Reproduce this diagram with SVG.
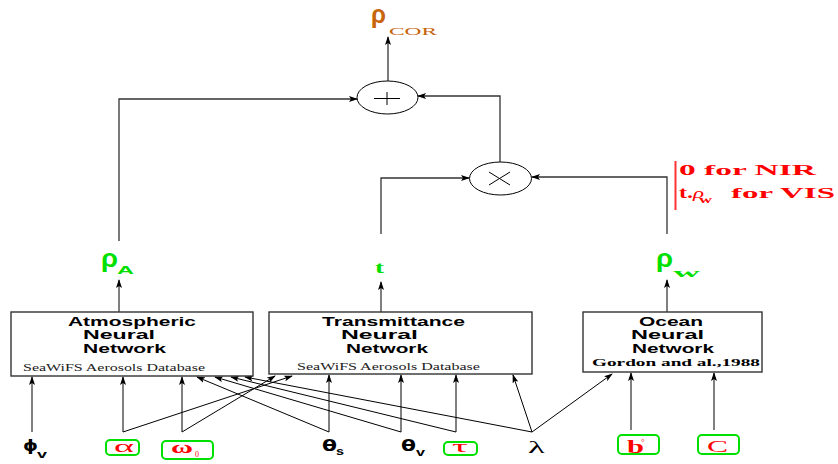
<svg xmlns="http://www.w3.org/2000/svg" width="838" height="464" viewBox="0 0 838 464">
<defs>
<style>
.box{fill:#fff;stroke:#333;stroke-width:1.4}
.ttl{font-family:"Liberation Sans",Arial,sans-serif;font-weight:bold;font-size:12.5px;fill:#000}
.db{font-family:"Liberation Serif","Times New Roman",serif;font-size:10px;fill:#222}
.ln{fill:none;stroke:#000;stroke-width:1}
.ln2{fill:none;stroke:#333;stroke-width:1.3}
.gbox{fill:#fff;stroke:#00e000;stroke-width:2}
.red{fill:#ff0000;font-family:"Liberation Serif","Times New Roman",serif}
.grn{fill:#00e000}
.blk{fill:#000}
</style>
<marker id="ah" markerWidth="9" markerHeight="6" refX="8" refY="3" orient="auto" markerUnits="userSpaceOnUse">
<path d="M0,0 L9,3 L0,6 L2,3 z" fill="#000"/>
</marker>
</defs>
<rect width="838" height="464" fill="#fff"/>

<g id="connectors">
<line class="ln" x1="32" y1="432" x2="32" y2="377" marker-end="url(#ah)"/>
<line class="ln" x1="123" y1="432" x2="123" y2="377" marker-end="url(#ah)"/>
<line class="ln" x1="123" y1="432" x2="292" y2="376" marker-end="url(#ah)"/>
<line class="ln" x1="182" y1="432" x2="182" y2="377" marker-end="url(#ah)"/>
<line class="ln" x1="182" y1="432" x2="275" y2="376" marker-end="url(#ah)"/>
<line class="ln" x1="329" y1="432" x2="329" y2="375" marker-end="url(#ah)"/>
<line class="ln" x1="329" y1="432" x2="197" y2="377" marker-end="url(#ah)"/>
<line class="ln" x1="401" y1="432" x2="401" y2="375" marker-end="url(#ah)"/>
<line class="ln" x1="401" y1="432" x2="215" y2="377" marker-end="url(#ah)"/>
<line class="ln" x1="456" y1="432" x2="456" y2="375" marker-end="url(#ah)"/>
<line class="ln" x1="456" y1="432" x2="231" y2="377" marker-end="url(#ah)"/>
<line class="ln" x1="532" y1="432" x2="513" y2="375" marker-end="url(#ah)"/>
<line class="ln" x1="532" y1="432" x2="245" y2="377" marker-end="url(#ah)"/>
<line class="ln" x1="532" y1="432" x2="612" y2="374" marker-end="url(#ah)"/>
<line class="ln" x1="631" y1="430" x2="631" y2="373" marker-end="url(#ah)"/>
<line class="ln" x1="714" y1="430" x2="714" y2="373" marker-end="url(#ah)"/>

<line class="ln" x1="119" y1="312" x2="119" y2="280" marker-end="url(#ah)"/>
<line class="ln" x1="381" y1="312" x2="381" y2="282" marker-end="url(#ah)"/>
<line class="ln" x1="667" y1="312" x2="667" y2="280" marker-end="url(#ah)"/>

<polyline class="ln2" points="119,241 119,99 357,99" marker-end="url(#ah)"/>
<polyline class="ln2" points="381,234 381,178 469,178" marker-end="url(#ah)"/>
<polyline class="ln2" points="667,234 667,177 532,177" marker-end="url(#ah)"/>
<polyline class="ln2" points="500,162 500,96 418,96" marker-end="url(#ah)"/>
<line class="ln2" x1="388" y1="81" x2="388" y2="37" marker-end="url(#ah)"/>
</g>

<g id="plus">
<ellipse cx="387.5" cy="97.5" rx="30.5" ry="16.5" fill="#fff" stroke="#000" stroke-width="1"/>
<path d="M374,98.5 H400 M387,92 V105" stroke="#000" stroke-width="1" fill="none"/>
</g>
<g id="times">
<ellipse cx="500.5" cy="178.5" rx="31" ry="16.5" fill="#fff" stroke="#000" stroke-width="1"/>
<path d="M489,172 L510,185 M510,172 L489,185" stroke="#000" stroke-width="1" fill="none"/>
</g>

<g id="rho-cor">
<text x="371" y="23" font-family="Liberation Sans,Arial,sans-serif" font-size="25" font-weight="bold" fill="#c8640a" textLength="15" lengthAdjust="spacingAndGlyphs">ρ</text>
<text x="389" y="35" font-family="Liberation Serif,serif" font-size="10" fill="#c8640a" textLength="48" lengthAdjust="spacingAndGlyphs">COR</text>
</g>

<g id="note">
<line x1="675.5" y1="161" x2="675.5" y2="210" stroke="#ff3333" stroke-width="2"/>
<text class="red" x="679" y="175" font-size="15" font-weight="bold" textLength="137" lengthAdjust="spacingAndGlyphs">0 for NIR</text>
<text class="red" x="679" y="198" font-size="16" font-weight="bold" textLength="14" lengthAdjust="spacingAndGlyphs">t.</text>
<text class="red" x="693" y="198" font-size="15" font-style="italic" textLength="11" lengthAdjust="spacingAndGlyphs">ρ</text>
<text class="red" x="699" y="203" font-size="10" font-weight="bold" textLength="13" lengthAdjust="spacingAndGlyphs">w</text>
<text class="red" x="731" y="198" font-size="15" font-weight="bold" textLength="104" lengthAdjust="spacingAndGlyphs">for VIS</text>
</g>

<g id="rhoA">
<text class="grn" x="101" y="267" font-family="Liberation Sans,Arial,sans-serif" font-size="25" font-weight="bold" textLength="17" lengthAdjust="spacingAndGlyphs">ρ</text>
<text class="grn" x="117" y="274" font-family="Liberation Sans,Arial,sans-serif" font-size="11" font-weight="bold" textLength="17" lengthAdjust="spacingAndGlyphs">A</text>
</g>
<g id="t-label">
<text class="grn" x="375" y="273" font-family="Liberation Serif,serif" font-size="17" font-weight="bold" textLength="9" lengthAdjust="spacingAndGlyphs">t</text>
</g>
<g id="rhoW">
<text class="grn" x="656" y="267" font-family="Liberation Sans,Arial,sans-serif" font-size="25" font-weight="bold" textLength="17" lengthAdjust="spacingAndGlyphs">ρ</text>
<text class="grn" x="673" y="277" font-family="Liberation Serif,serif" font-size="13" font-weight="bold" textLength="27" lengthAdjust="spacingAndGlyphs">w</text>
</g>

<g id="atmospheric">
<rect class="box" x="11" y="312" width="242" height="64"/>
<text class="ttl" x="68" y="326" textLength="128" lengthAdjust="spacingAndGlyphs">Atmospheric</text>
<text class="ttl" x="83" y="339" textLength="72" lengthAdjust="spacingAndGlyphs">Neural</text>
<text class="ttl" x="83" y="353" textLength="83" lengthAdjust="spacingAndGlyphs">Network</text>
<text class="db" x="23" y="371" textLength="182" lengthAdjust="spacingAndGlyphs">SeaWiFS Aerosols Database</text>
</g>
<g id="transmittance">
<rect class="box" x="269" y="312" width="263" height="62"/>
<text class="ttl" x="322" y="326" textLength="143" lengthAdjust="spacingAndGlyphs">Transmittance</text>
<text class="ttl" x="341" y="339" textLength="77" lengthAdjust="spacingAndGlyphs">Neural</text>
<text class="ttl" x="346" y="353" textLength="82" lengthAdjust="spacingAndGlyphs">Network</text>
<text class="db" x="297" y="370" textLength="183" lengthAdjust="spacingAndGlyphs">SeaWiFS Aerosols Database</text>
</g>
<g id="ocean">
<rect class="box" x="583" y="312" width="179" height="60"/>
<text class="ttl" x="639" y="326" textLength="64" lengthAdjust="spacingAndGlyphs">Ocean</text>
<text class="ttl" x="631" y="339" textLength="73" lengthAdjust="spacingAndGlyphs">Neural</text>
<text class="ttl" x="632" y="353" textLength="82" lengthAdjust="spacingAndGlyphs">Network</text>
<text x="592" y="366" font-family="Liberation Serif,serif" font-size="10" font-weight="bold" textLength="168" lengthAdjust="spacingAndGlyphs">Gordon and al.,1988</text>
</g>

<g id="phi-v">
<text class="blk" x="23" y="451" font-family="DejaVu Sans,sans-serif" font-size="15" font-weight="bold" textLength="15" lengthAdjust="spacingAndGlyphs">ϕ</text>
<text class="blk" x="37" y="458" font-family="Liberation Sans,sans-serif" font-size="11" font-weight="bold" textLength="10" lengthAdjust="spacingAndGlyphs">v</text>
</g>
<g id="alpha">
<rect class="gbox" x="106" y="440" width="33" height="15" rx="4"/>
<text class="red" x="114" y="452" font-size="17" textLength="20" lengthAdjust="spacingAndGlyphs">α</text>
</g>
<g id="omega0">
<rect class="gbox" x="162" y="441" width="51" height="18" rx="4"/>
<text class="red" x="171" y="453" font-size="17" font-weight="bold" textLength="22" lengthAdjust="spacingAndGlyphs">ω</text>
<text class="red" x="195" y="457" font-size="8">0</text>
</g>
<g id="theta-s">
<text class="blk" x="322" y="451" font-family="DejaVu Sans,sans-serif" font-size="15" font-weight="bold" textLength="15" lengthAdjust="spacingAndGlyphs">θ</text>
<text class="blk" x="336" y="455" font-family="Liberation Sans,sans-serif" font-size="11" font-weight="bold" textLength="8" lengthAdjust="spacingAndGlyphs">s</text>
</g>
<g id="theta-v">
<text class="blk" x="401" y="451" font-family="DejaVu Sans,sans-serif" font-size="15" font-weight="bold" textLength="15" lengthAdjust="spacingAndGlyphs">θ</text>
<text class="blk" x="416" y="456" font-family="Liberation Sans,sans-serif" font-size="11" font-weight="bold" textLength="9" lengthAdjust="spacingAndGlyphs">v</text>
</g>
<g id="tau">
<rect class="gbox" x="444" y="442" width="33" height="13" rx="4"/>
<text class="red" x="452" y="452" font-size="16" textLength="16" lengthAdjust="spacingAndGlyphs">τ</text>
</g>
<g id="lambda">
<text class="blk" x="528" y="453" font-family="Liberation Serif,serif" font-size="16" textLength="17" lengthAdjust="spacingAndGlyphs">λ</text>
</g>
<g id="b0">
<rect class="gbox" x="618" y="435" width="41" height="19" rx="4"/>
<text class="red" x="627" y="453" font-size="18" font-weight="bold" textLength="17" lengthAdjust="spacingAndGlyphs">b</text>
<text class="red" x="641" y="445" font-size="9">°</text>
</g>
<g id="c">
<rect class="gbox" x="698" y="435" width="41" height="19" rx="4"/>
<text class="red" x="707" y="452" font-size="16" textLength="21" lengthAdjust="spacingAndGlyphs">C</text>
</g>
</svg>
